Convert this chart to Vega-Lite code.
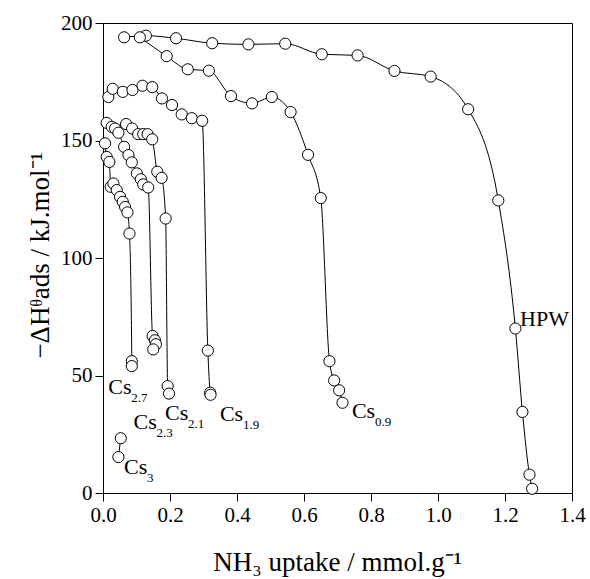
{
  "$schema": "https://vega.github.io/schema/vega-lite/v6.json",
  "autosize": {"type": "none"},
  "width": 469,
  "height": 470,
  "padding": {"left": 103, "top": 23, "right": 18, "bottom": 86},
  "background": "white",
  "config": {
    "view": {"stroke": "black", "strokeWidth": 1},
    "font": "Liberation Serif",
    "axis": {
      "grid": false,
      "domainColor": "black",
      "tickColor": "black",
      "tickSize": 8,
      "labelFont": "Liberation Serif",
      "labelFontSize": 21,
      "labelColor": "black",
      "labelPadding": 3,
      "labelFlush": false,
      "labelOverlap": false,
      "titleFont": "Liberation Serif",
      "titleFontSize": 27,
      "titleFontWeight": "normal",
      "titleColor": "black"
    }
  },
  "datasets": {
    "pts": [
      {"s": "HPW", "i": 1, "x": 0.063, "y": 193.9},
      {"s": "HPW", "i": 2, "x": 0.128, "y": 194.6},
      {"s": "HPW", "i": 3, "x": 0.218, "y": 193.5},
      {"s": "HPW", "i": 4, "x": 0.326, "y": 191.4},
      {"s": "HPW", "i": 5, "x": 0.434, "y": 190.9},
      {"s": "HPW", "i": 6, "x": 0.544, "y": 191.2},
      {"s": "HPW", "i": 7, "x": 0.653, "y": 186.7},
      {"s": "HPW", "i": 8, "x": 0.760, "y": 186.2},
      {"s": "HPW", "i": 9, "x": 0.870, "y": 179.6},
      {"s": "HPW", "i": 10, "x": 0.978, "y": 177.2},
      {"s": "HPW", "i": 11, "x": 1.090, "y": 163.3},
      {"s": "HPW", "i": 12, "x": 1.180, "y": 124.5},
      {"s": "HPW", "i": 13, "x": 1.231, "y": 70.0},
      {"s": "HPW", "i": 14, "x": 1.252, "y": 34.5},
      {"s": "HPW", "i": 15, "x": 1.273, "y": 7.8},
      {"s": "HPW", "i": 16, "x": 1.281, "y": 1.8},
      {"s": "Cs0.9", "i": 1, "x": 0.110, "y": 193.9},
      {"s": "Cs0.9", "i": 2, "x": 0.190, "y": 185.9},
      {"s": "Cs0.9", "i": 3, "x": 0.253, "y": 180.3},
      {"s": "Cs0.9", "i": 4, "x": 0.316, "y": 179.7},
      {"s": "Cs0.9", "i": 5, "x": 0.382, "y": 168.9},
      {"s": "Cs0.9", "i": 6, "x": 0.445, "y": 165.8},
      {"s": "Cs0.9", "i": 7, "x": 0.504, "y": 168.5},
      {"s": "Cs0.9", "i": 8, "x": 0.560, "y": 162.1},
      {"s": "Cs0.9", "i": 9, "x": 0.612, "y": 143.9},
      {"s": "Cs0.9", "i": 10, "x": 0.650, "y": 125.5},
      {"s": "Cs0.9", "i": 11, "x": 0.676, "y": 56.1},
      {"s": "Cs0.9", "i": 12, "x": 0.690, "y": 47.9},
      {"s": "Cs0.9", "i": 13, "x": 0.705, "y": 43.7},
      {"s": "Cs0.9", "i": 14, "x": 0.715, "y": 38.4},
      {"s": "Cs1.9", "i": 1, "x": 0.016, "y": 168.5},
      {"s": "Cs1.9", "i": 2, "x": 0.029, "y": 172.0},
      {"s": "Cs1.9", "i": 3, "x": 0.059, "y": 170.7},
      {"s": "Cs1.9", "i": 4, "x": 0.088, "y": 171.5},
      {"s": "Cs1.9", "i": 5, "x": 0.118, "y": 173.3},
      {"s": "Cs1.9", "i": 6, "x": 0.147, "y": 172.7},
      {"s": "Cs1.9", "i": 7, "x": 0.176, "y": 167.9},
      {"s": "Cs1.9", "i": 8, "x": 0.206, "y": 165.1},
      {"s": "Cs1.9", "i": 9, "x": 0.235, "y": 161.1},
      {"s": "Cs1.9", "i": 10, "x": 0.265, "y": 159.5},
      {"s": "Cs1.9", "i": 11, "x": 0.296, "y": 158.4},
      {"s": "Cs1.9", "i": 12, "x": 0.313, "y": 60.6},
      {"s": "Cs1.9", "i": 13, "x": 0.320, "y": 42.7},
      {"s": "Cs1.9", "i": 14, "x": 0.321, "y": 41.8},
      {"s": "Cs2.1", "i": 1, "x": 0.011, "y": 157.5},
      {"s": "Cs2.1", "i": 2, "x": 0.026, "y": 155.8},
      {"s": "Cs2.1", "i": 3, "x": 0.069, "y": 157.0},
      {"s": "Cs2.1", "i": 4, "x": 0.087, "y": 155.1},
      {"s": "Cs2.1", "i": 5, "x": 0.105, "y": 152.7},
      {"s": "Cs2.1", "i": 6, "x": 0.120, "y": 152.7},
      {"s": "Cs2.1", "i": 7, "x": 0.133, "y": 152.7},
      {"s": "Cs2.1", "i": 8, "x": 0.147, "y": 150.5},
      {"s": "Cs2.1", "i": 9, "x": 0.162, "y": 136.7},
      {"s": "Cs2.1", "i": 10, "x": 0.175, "y": 134.1},
      {"s": "Cs2.1", "i": 11, "x": 0.187, "y": 116.8},
      {"s": "Cs2.1", "i": 12, "x": 0.193, "y": 45.5},
      {"s": "Cs2.1", "i": 13, "x": 0.197, "y": 42.3},
      {"s": "Cs2.3", "i": 1, "x": 0.036, "y": 155.1},
      {"s": "Cs2.3", "i": 2, "x": 0.046, "y": 153.3},
      {"s": "Cs2.3", "i": 3, "x": 0.063, "y": 147.3},
      {"s": "Cs2.3", "i": 4, "x": 0.076, "y": 143.8},
      {"s": "Cs2.3", "i": 5, "x": 0.086, "y": 140.7},
      {"s": "Cs2.3", "i": 6, "x": 0.101, "y": 136.0},
      {"s": "Cs2.3", "i": 7, "x": 0.113, "y": 133.5},
      {"s": "Cs2.3", "i": 8, "x": 0.120, "y": 131.3},
      {"s": "Cs2.3", "i": 9, "x": 0.135, "y": 130.0},
      {"s": "Cs2.3", "i": 10, "x": 0.148, "y": 66.8},
      {"s": "Cs2.3", "i": 11, "x": 0.155, "y": 65.0},
      {"s": "Cs2.3", "i": 12, "x": 0.158, "y": 63.3},
      {"s": "Cs2.3", "i": 13, "x": 0.150, "y": 61.1},
      {"s": "Cs2.7", "i": 1, "x": 0.006, "y": 148.8},
      {"s": "Cs2.7", "i": 2, "x": 0.011, "y": 143.0},
      {"s": "Cs2.7", "i": 3, "x": 0.019, "y": 140.9},
      {"s": "Cs2.7", "i": 4, "x": 0.023, "y": 130.3},
      {"s": "Cs2.7", "i": 5, "x": 0.031, "y": 131.7},
      {"s": "Cs2.7", "i": 6, "x": 0.041, "y": 128.9},
      {"s": "Cs2.7", "i": 7, "x": 0.051, "y": 126.0},
      {"s": "Cs2.7", "i": 8, "x": 0.059, "y": 123.9},
      {"s": "Cs2.7", "i": 9, "x": 0.066, "y": 121.7},
      {"s": "Cs2.7", "i": 10, "x": 0.073, "y": 119.4},
      {"s": "Cs2.7", "i": 11, "x": 0.079, "y": 110.4},
      {"s": "Cs2.7", "i": 12, "x": 0.086, "y": 56.1},
      {"s": "Cs2.7", "i": 13, "x": 0.086, "y": 54.0},
      {"s": "Cs3", "i": 1, "x": 0.053, "y": 23.3},
      {"s": "Cs3", "i": 2, "x": 0.046, "y": 15.3}
    ],
    "labels": [
      {"t": "Cs", "sub": "2.7", "x": 0.016, "y": 45.1},
      {"t": "Cs", "sub": "2.3", "x": 0.091, "y": 30.1},
      {"t": "Cs", "sub": "2.1", "x": 0.185, "y": 33.9},
      {"t": "Cs", "sub": "1.9", "x": 0.349, "y": 33.8},
      {"t": "Cs", "sub": "3", "x": 0.063, "y": 11.0},
      {"t": "Cs", "sub": "0.9", "x": 0.743, "y": 35.1},
      {"t": "HPW", "sub": "", "x": 1.245, "y": 73.9}
    ]
  },
  "layer": [
    {
      "data": {"name": "pts"},
      "mark": {"type": "line", "color": "black", "strokeWidth": 1, "interpolate": "monotone"},
      "encoding": {
        "x": {
          "field": "x", "type": "quantitative",
          "scale": {"domain": [0, 1.4], "nice": false, "zero": false},
          "axis": {
            "values": [0, 0.2, 0.4, 0.6, 0.8, 1.0, 1.2, 1.4],
            "format": ".1f",
            "title": "NH\u2083 uptake / mmol.g\u207B\u00B9",
            "titleX": 234,
            "titleY": 69,
            "titleAlign": "center",
            "titleBaseline": "middle"
          }
        },
        "y": {
          "field": "y", "type": "quantitative",
          "scale": {"domain": [0, 200], "nice": false, "zero": false},
          "axis": {
            "values": [0, 50, 100, 150, 200],
            "format": "d",
            "title": "\u2212\u0394H\u1DBFads / kJ.mol\u207B\u00B9",
            "titleX": -63,
            "titleY": 232,
            "titleAngle": 270,
            "titleAlign": "center",
            "titleBaseline": "middle"
          }
        },
        "detail": {"field": "s"},
        "order": {"field": "i", "type": "quantitative"}
      }
    },
    {
      "data": {"name": "pts"},
      "mark": {"type": "point", "shape": "circle", "filled": true, "fill": "white", "stroke": "black", "strokeWidth": 1, "size": 125, "opacity": 1},
      "encoding": {
        "x": {"field": "x", "type": "quantitative"},
        "y": {"field": "y", "type": "quantitative"}
      }
    },
    {
      "data": {"name": "labels"},
      "mark": {"type": "text", "align": "left", "baseline": "middle", "fontSize": 22, "font": "Liberation Serif", "color": "black"},
      "encoding": {
        "x": {"field": "x", "type": "quantitative"},
        "y": {"field": "y", "type": "quantitative"},
        "text": {"field": "t"}
      }
    },
    {
      "data": {"name": "labels"},
      "mark": {"type": "text", "align": "left", "baseline": "middle", "fontSize": 13, "font": "Liberation Serif", "color": "black", "dx": 23, "dy": 11},
      "encoding": {
        "x": {"field": "x", "type": "quantitative"},
        "y": {"field": "y", "type": "quantitative"},
        "text": {"field": "sub"}
      }
    }
  ]
}
